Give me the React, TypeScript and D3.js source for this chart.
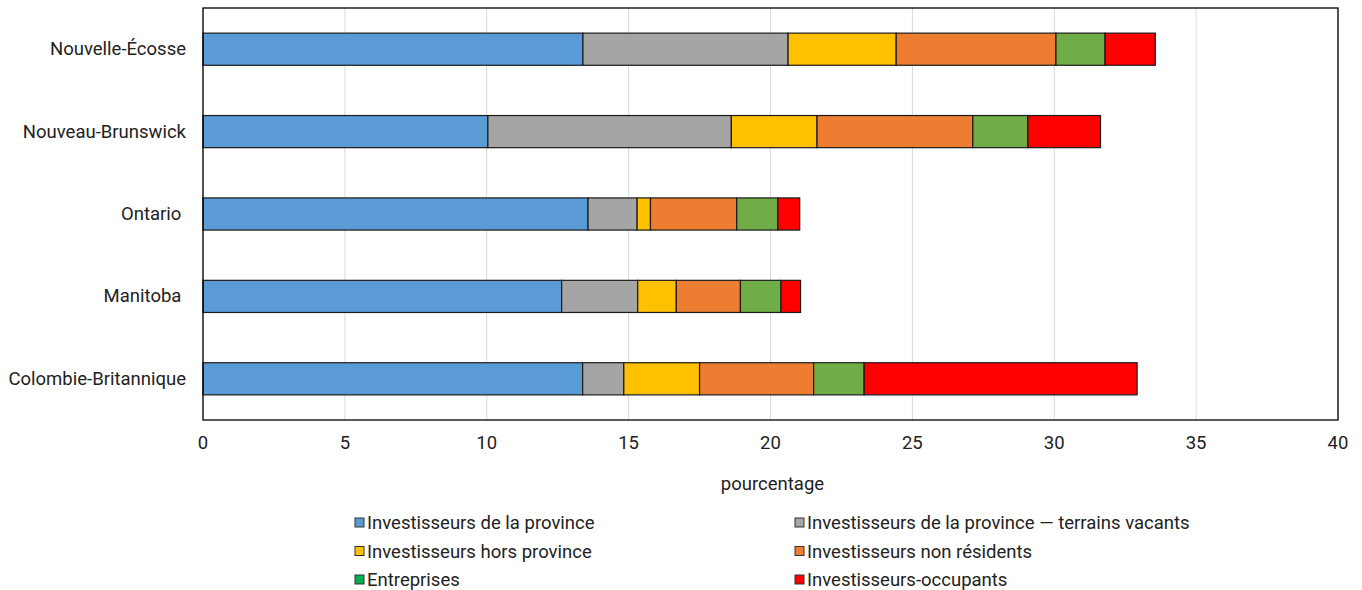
import React from "react";
import * as d3 from "d3";

const categories = ["Nouvelle-Écosse", "Nouveau-Brunswick", "Ontario ", "Manitoba ", "Colombie-Britannique"];
const seriesNames = [
  "Investisseurs de la province",
  "Investisseurs de la province — terrains vacants",
  "Investisseurs hors province",
  "Investisseurs non résidents",
  "Entreprises",
  "Investisseurs-occupants",
];
const provinceInvestors = [13.39, 10.04, 13.57, 12.64, 13.38];
const vacantLand = [7.23, 8.58, 1.73, 2.68, 1.45];
const outOfProvince = [3.81, 3.02, 0.47, 1.36, 2.67];
const nonResidents = [5.63, 5.49, 3.04, 2.26, 4.02];
const businesses = [1.73, 1.94, 1.45, 1.43, 1.78];
const ownerOccupiers = [1.77, 2.56, 0.77, 0.69, 9.62];
const xTicks = [0, 5, 10, 15, 20, 25, 30, 35, 40];

const seriesValues = [provinceInvestors, vacantLand, outOfProvince, nonResidents, businesses, ownerOccupiers];
const barColors = ["#5B9BD5", "#A5A5A5", "#FFC000", "#ED7D31", "#70AD47", "#FF0000"];
const legendColors = ["#5B9BD5", "#A5A5A5", "#FFC000", "#ED7D31", "#00B050", "#FF0000"];

const FONT = "Roboto, 'Liberation Sans', Arial, sans-serif";
const FS = 18.5;

export default function App() {
  const W = 1362, H = 590;
  const left = 203, right = 1338, top = 8, bottom = 420;
  const x = d3.scaleLinear().domain([0, 40]).range([left, right]);
  const y = d3.scaleBand<string>().domain(categories).range([top, bottom]).paddingInner(0.61).paddingOuter(0.305);

  const rows = categories.map((c, i) => {
    const vals = seriesValues.map((s) => s[i]);
    let acc = 0;
    return vals.map((v, k) => {
      const x0 = acc;
      acc += v;
      return { c, k, x0, x1: acc };
    });
  });

  return (
    <svg width={W} height={H} style={{ position: "absolute", left: 0, top: 0, fontFamily: FONT }}>
      <rect x={0} y={0} width={W} height={H} fill="#fff" />
      {xTicks.map((t) => (
        <line key={"g" + t} x1={x(t)} x2={x(t)} y1={top} y2={bottom} stroke="#D9D9D9" strokeWidth={1} />
      ))}
      {rows.map((segs) =>
        segs.map((s) => (
          <rect
            key={s.c + s.k}
            x={x(s.x0)}
            y={y(s.c)!}
            width={x(s.x1) - x(s.x0)}
            height={y.bandwidth()}
            fill={barColors[s.k]}
            stroke="#1a1a1a"
            strokeWidth={1.2}
          />
        ))
      )}
      <rect x={left} y={top} width={right - left} height={bottom - top} fill="none" stroke="#000" strokeWidth={1.3} />
      {categories.map((c) => (
        <text
          key={c}
          x={186}
          y={y(c)! + y.bandwidth() / 2}
          textAnchor="end"
          dominantBaseline="central"
          fontSize={FS}
          fill="#222"
          style={{ whiteSpace: "pre" }}
        >
          {c}
        </text>
      ))}
      {xTicks.map((t) => (
        <text key={"t" + t} x={x(t)} y={449} textAnchor="middle" fontSize={FS} fill="#222">
          {t}
        </text>
      ))}
      <text x={(left + right) / 2 + 2} y={490} textAnchor="middle" fontSize={FS} fill="#222">
        pourcentage
      </text>
      {seriesNames.map((n, i) => {
        const col = i % 2;
        const row = Math.floor(i / 2);
        const lx = col === 0 ? 355 : 795;
        const ly = 523 + row * 28.5;
        return (
          <g key={n}>
            <rect x={lx} y={ly - 5} width={9} height={9} fill={legendColors[i]} stroke="#333" strokeWidth={1} />
            <text x={lx + 12} y={ly} dominantBaseline="central" fontSize={FS} fill="#222">
              {n}
            </text>
          </g>
        );
      })}
    </svg>
  );
}
